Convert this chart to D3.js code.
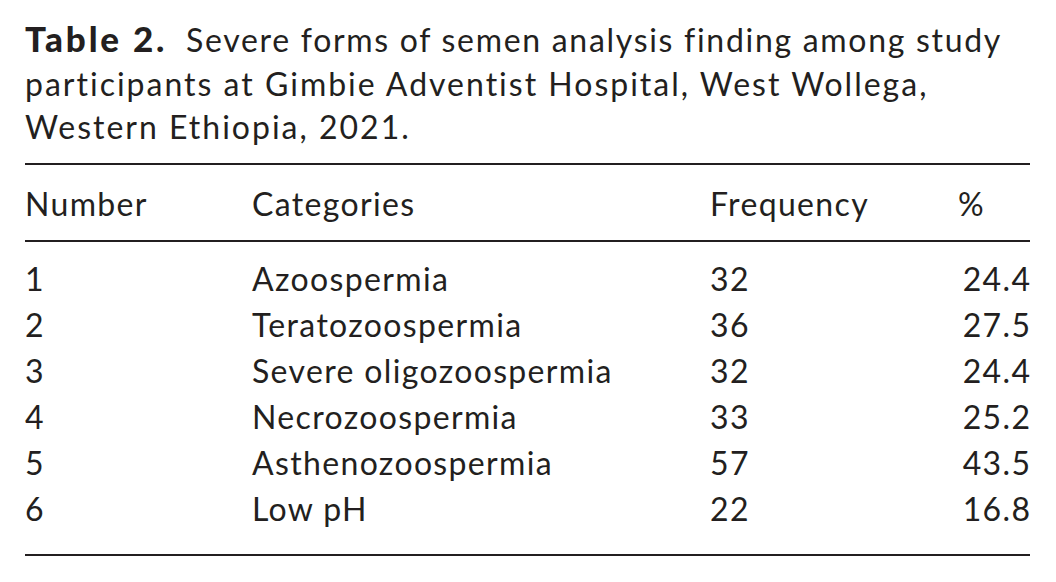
<!DOCTYPE html>
<html>
<head>
<meta charset="utf-8">
<script src="https://cdn.jsdelivr.net/npm/d3@7"></script>
<style>
  body { margin: 0; background: #fff; }
  text { font-family: "Lato", "Open Sans", sans-serif; fill: #231f20; }
</style>
</head>
<body>
<div id="table"></div>
<script>
var svgWidth = 1056;
var svgHeight = 582;

// table data
var titleBold = "Table 2.";
var titleLines = [
  "Severe forms of semen analysis finding among study",
  "participants at Gimbie Adventist Hospital, West Wollega,",
  "Western Ethiopia, 2021."
];
var headers = ["Number", "Categories", "Frequency", "%"];
var numbers = ["1", "2", "3", "4", "5", "6"];
var categories = ["Azoospermia", "Teratozoospermia", "Severe oligozoospermia",
  "Necrozoospermia", "Asthenozoospermia", "Low pH"];
var frequency = [32, 36, 32, 33, 57, 22];
var percent = [24.4, 27.5, 24.4, 25.2, 43.5, 16.8];

var margin = { left: 25, right: 26 };
var fontSize = 32;
var bodySpacing = 1.35;

var svg = d3.select("#table")
  .append("svg")
  .attr("width", svgWidth)
  .attr("height", svgHeight);

svg.append("rect")
  .attr("width", svgWidth)
  .attr("height", svgHeight)
  .attr("fill", "#fff");

// title
var title = svg.append("g");
titleLines.forEach(function(line, i) {
  var t = title.append("text")
    .attr("x", margin.left)
    .attr("y", 52 + i * 43.5)
    .style("font-size", fontSize + "px")
    .style("letter-spacing", (i === 0 ? 1.7 : 2) + "px");
  if (i === 0) {
    t.append("tspan")
      .style("font-weight", "900")
      .style("font-size", "35px")
      .style("letter-spacing", "2.8px")
      .text(titleBold);
    t.append("tspan").attr("x", 186).text(line);
  } else {
    t.text(line);
  }
});

// rule lines
var rules = [164, 241, 555];
svg.selectAll("line.rule")
  .data(rules)
  .enter()
  .append("line")
  .attr("class", "rule")
  .attr("x1", margin.left)
  .attr("x2", svgWidth - margin.right)
  .attr("y1", d => d)
  .attr("y2", d => d)
  .attr("stroke", "#231f20")
  .attr("stroke-width", 2);

// columns
var colX = [25, 252, 710, 1030 + bodySpacing];
var rowScale = d3.scaleBand()
  .domain(numbers)
  .range([257, 533]);

svg.selectAll("text.header")
  .data(headers)
  .enter()
  .append("text")
  .attr("class", "header")
  .attr("x", (d, i) => i === 3 ? 958 : colX[i])
  .attr("y", 216)
  .style("font-size", fontSize + "px")
  .style("letter-spacing", bodySpacing + "px")
  .text(d => d);

var rows = svg.selectAll("g.row")
  .data(numbers)
  .enter()
  .append("g")
  .attr("class", "row")
  .attr("transform", d => `translate(0, ${rowScale(d) + rowScale.bandwidth() / 2 + 11})`);

rows.each(function(d, i) {
  var cells = [numbers[i], categories[i], frequency[i], percent[i].toFixed(1)];
  d3.select(this).selectAll("text")
    .data(cells)
    .enter()
    .append("text")
    .attr("x", (c, j) => colX[j])
    .attr("text-anchor", (c, j) => j === 3 ? "end" : "start")
    .style("font-size", fontSize + "px")
    .style("letter-spacing", bodySpacing + "px")
    .text(c => c);
});
</script>
</body>
</html>
